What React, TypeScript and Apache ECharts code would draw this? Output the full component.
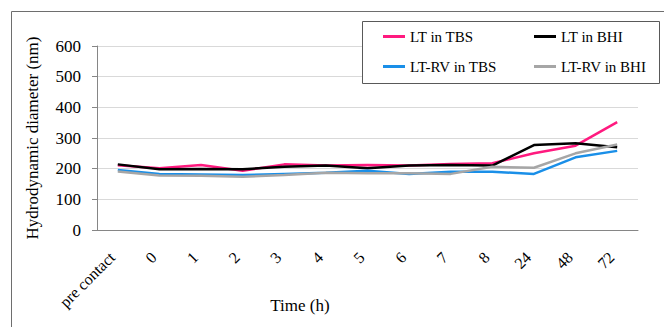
import React, { useEffect, useRef } from "react";
import * as echarts from "echarts";

const categories = ["pre contact", "0", "1", "2", "3", "4", "5", "6", "7", "8", "24", "48", "72"];
const ltTBS = [211, 201, 212, 193, 214, 210, 212, 210, 215, 218, 250, 275, 352];
const ltBHI = [214, 198, 199, 198, 206, 210, 201, 210, 212, 210, 277, 283, 270];
const ltrvTBS = [196, 183, 181, 179, 183, 187, 193, 183, 190, 190, 183, 237, 258];
const ltrvBHI = [191, 178, 177, 174, 179, 187, 185, 185, 183, 206, 203, 250, 279];
const yTicks = [0, 100, 200, 300, 400, 500, 600];

const FONT = "'Liberation Serif', 'DejaVu Serif', serif";

export default function App() {
  const ref = useRef<HTMLDivElement>(null);
  useEffect(() => {
    if (!ref.current) return;
    const chart = echarts.init(ref.current, null, { renderer: "svg" });
    const mk = (name: string, data: number[], color: string) => ({
      name,
      type: "line",
      data,
      symbol: "none",
      lineStyle: { color, width: 2.5 },
      itemStyle: { color },
    });
    const legendText = { fontSize: 15, color: "#000", fontFamily: FONT };
    chart.setOption({
      animation: false,
      backgroundColor: "#fff",
      textStyle: { fontFamily: FONT },
      grid: { left: 97, right: 26, top: 46, bottom: 97 },
      xAxis: {
        type: "category",
        data: categories,
        boundaryGap: true,
        axisLine: { lineStyle: { color: "#868686", width: 1 } },
        axisTick: { alignWithLabel: true, length: 5, lineStyle: { color: "#868686" } },
        axisLabel: {
          rotate: 45,
          fontSize: 16,
          color: "#000",
          fontFamily: FONT,
          margin: 19,
          padding: [0, 8, 0, 0],
        },
      },
      yAxis: {
        type: "value",
        min: yTicks[0],
        max: yTicks[yTicks.length - 1],
        interval: 100,
        name: "Hydrodynamic diameter (nm)",
        nameLocation: "middle",
        nameGap: 56,
        nameTextStyle: { fontSize: 17, color: "#000", fontFamily: FONT },
        axisLine: { show: true, lineStyle: { color: "#868686", width: 1 } },
        axisTick: { show: true, length: 5, lineStyle: { color: "#868686" } },
        axisLabel: { fontSize: 17, color: "#000", fontFamily: FONT, margin: 16 },
        splitLine: { lineStyle: { color: "#d9d9d9", width: 1 } },
      },
      legend: [
        {
          left: 378,
          top: 24,
          orient: "vertical",
          itemWidth: 22,
          itemHeight: 3,
          itemGap: 15,
          icon: "rect",
          textStyle: legendText,
          data: ["LT in TBS", "LT-RV in TBS"],
        },
        {
          left: 529,
          top: 24,
          orient: "vertical",
          itemWidth: 22,
          itemHeight: 3,
          itemGap: 15,
          icon: "rect",
          textStyle: legendText,
          data: ["LT in BHI", "LT-RV in BHI"],
        },
      ],
      graphic: [
        {
          type: "rect",
          shape: { x: 11.5, y: 11.5, width: 700, height: 400 },
          style: { fill: "none", stroke: "#6e6e6e", lineWidth: 1 },
          z: 0,
        },
        {
          type: "rect",
          shape: { x: 362.5, y: 21.5, width: 297, height: 62 },
          style: { fill: "#fff", stroke: "#595959", lineWidth: 1 },
          z: 1,
        },
        {
          type: "text",
          x: 300,
          y: 305,
          style: {
            text: "Time (h)",
            fontSize: 17,
            fontFamily: FONT,
            fill: "#000",
            align: "center",
            verticalAlign: "middle",
          },
        },
      ],
      series: [
        mk("LT in TBS", ltTBS, "#ff1a7f"),
        mk("LT in BHI", ltBHI, "#000000"),
        mk("LT-RV in TBS", ltrvTBS, "#1a8fe8"),
        mk("LT-RV in BHI", ltrvBHI, "#a6a6a6"),
      ],
    });
    return () => chart.dispose();
  }, []);
  return <div ref={ref} style={{ position: "fixed", left: 0, top: 0, width: 664, height: 327 }} />;
}
